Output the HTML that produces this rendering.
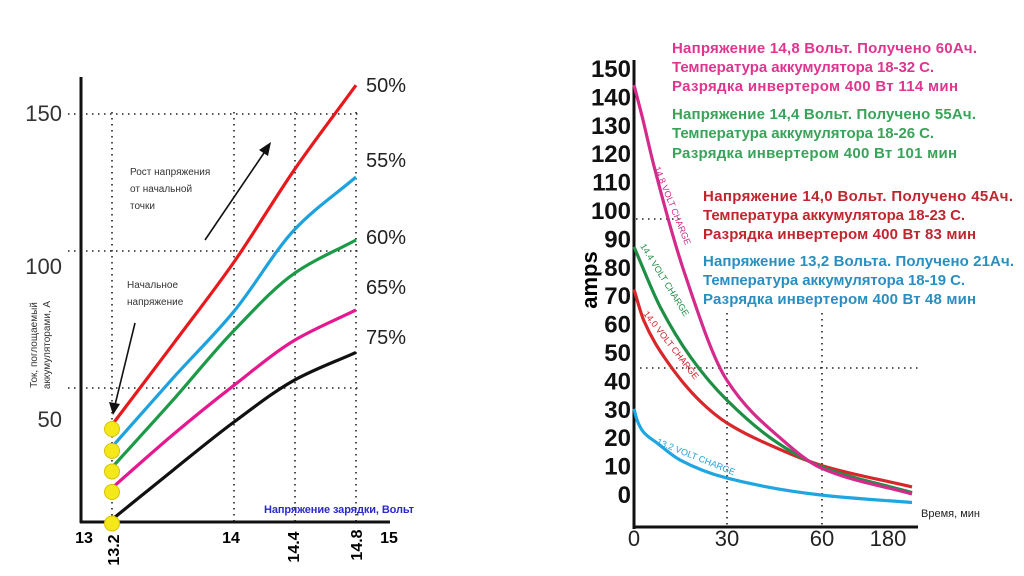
<!DOCTYPE html>
<html><head><meta charset="utf-8"><style>
html,body{margin:0;padding:0;background:#fff;}
svg{display:block;font-family:"Liberation Sans","DejaVu Sans",sans-serif;}
</style></head><body>
<svg id="chart" width="1024" height="576" viewBox="0 0 1024 576" xmlns="http://www.w3.org/2000/svg">
<rect width="1024" height="576" fill="#fff"/>
<g id="left">
  <g id="lgrid" stroke="#222" stroke-width="1.6" stroke-dasharray="1.5 4.5"></g>
  <line x1="81" y1="77" x2="81" y2="523" stroke="#111" stroke-width="3"/>
  <line x1="80" y1="522" x2="390" y2="522" stroke="#111" stroke-width="3"/>
  <text x="62" y="121" font-size="22" text-anchor="end" fill="#333">150</text>
  <text x="62" y="274" font-size="22" text-anchor="end" fill="#333">100</text>
  <text x="62" y="427" font-size="22" text-anchor="end" fill="#333">50</text>
  <text transform="translate(37,345) rotate(-90)" font-size="10" text-anchor="middle" fill="#333">Ток, поглощаемый</text>
  <text transform="translate(50,345) rotate(-90)" font-size="10" text-anchor="middle" fill="#333">аккумуляторами, А</text>
  <text x="84" y="543" font-size="16" font-weight="bold" text-anchor="middle">13</text>
  <text x="231" y="543" font-size="16" font-weight="bold" text-anchor="middle">14</text>
  <text x="389" y="543" font-size="16" font-weight="bold" text-anchor="middle">15</text>
  <text transform="translate(119,550) rotate(-90)" font-size="16" font-weight="bold" text-anchor="middle">13.2</text>
  <text transform="translate(299,547) rotate(-90)" font-size="16" font-weight="bold" text-anchor="middle">14.4</text>
  <text transform="translate(362,545) rotate(-90)" font-size="16" font-weight="bold" text-anchor="middle">14.8</text>
  <text x="264" y="513" font-size="11" font-weight="bold" fill="#2a2acc" textLength="150">Напряжение зарядки, Вольт</text>
  <g font-size="10" fill="#333">
    <text x="130" y="175">Рост напряжения</text>
    <text x="130" y="192">от начальной</text>
    <text x="130" y="209">точки</text>
  </g>
  <g font-size="10" fill="#333">
    <text x="127" y="288">Начальное</text>
    <text x="127" y="305">напряжение</text>
  </g>
  <line x1="205" y1="240" x2="266" y2="150" stroke="#111" stroke-width="1.6"/>
  <polygon points="271,142 259,150 268,156" fill="#111"/>
  <line x1="135" y1="323" x2="115" y2="405" stroke="#111" stroke-width="1.6"/>
  <polygon points="113,415 109,402 120,404" fill="#111"/>
  <g id="lseries"></g>
  <g id="ldots"></g>
  <g id="lpct" font-size="20" fill="#222"></g>
</g>
<g id="right">
  <g id="rgrid" stroke="#222" stroke-width="1.6" stroke-dasharray="1.5 4.5">
    <line x1="727" y1="313" x2="727" y2="527"/>
    <line x1="822" y1="313" x2="822" y2="527"/>
    <line x1="640" y1="368" x2="918" y2="368"/>
    <line x1="636" y1="219" x2="682" y2="219"/>
  </g>
  <line x1="634" y1="60" x2="634" y2="529" stroke="#111" stroke-width="3"/>
  <line x1="633" y1="527" x2="918" y2="527" stroke="#111" stroke-width="3"/>
  <g id="rytk" font-size="24" font-weight="bold" text-anchor="end" fill="#111"></g>
  <g id="rxtk" font-size="22" text-anchor="middle" fill="#222"></g>
  <text transform="translate(597,280) rotate(-90)" font-size="22" font-weight="bold" text-anchor="middle">amps</text>
  <text x="921" y="517" font-size="11" fill="#222">Время, мин</text>
  <g id="rseries"></g>
  <g font-size="9">
    <text transform="translate(654,168) rotate(68)" fill="#d0288a">14.8 VOLT CHARGE</text>
    <text transform="translate(640,246) rotate(58)" fill="#1f8f45">14.4 VOLT CHARGE</text>
    <text transform="translate(643,314) rotate(52)" fill="#cc2228">14.0 VOLT CHARGE</text>
    <text transform="translate(656,444) rotate(22)" fill="#1da0d8">13.2 VOLT CHARGE</text>
  </g>
  <g font-size="15" font-weight="bold" fill="#e0358f">
    <text x="672" y="53" textLength="305">Напряжение 14,8 Вольт. Получено 60Ач.</text>
    <text x="672" y="72" textLength="262">Температура аккумулятора 18-32 С.</text>
    <text x="672" y="91" textLength="286">Разрядка инвертером 400 Вт 114 мин</text>
  </g>
  <g font-size="15" font-weight="bold" fill="#3aa35a">
    <text x="672" y="119" textLength="304">Напряжение 14,4 Вольт. Получено 55Ач.</text>
    <text x="672" y="138" textLength="262">Температура аккумулятора 18-26 С.</text>
    <text x="672" y="158" textLength="285">Разрядка инвертером 400 Вт 101 мин</text>
  </g>
  <g font-size="15" font-weight="bold" fill="#c0262e">
    <text x="703" y="201" textLength="310">Напряжение 14,0 Вольт. Получено 45Ач.</text>
    <text x="703" y="220" textLength="262">Температура аккумулятора 18-23 С.</text>
    <text x="703" y="239" textLength="273">Разрядка инвертером 400 Вт 83 мин</text>
  </g>
  <g font-size="15" font-weight="bold" fill="#2a8fc0">
    <text x="703" y="266" textLength="311">Напряжение 13,2 Вольта. Получено 21Ач.</text>
    <text x="703" y="285" textLength="262">Температура аккумулятора 18-19 С.</text>
    <text x="703" y="304" textLength="273">Разрядка инвертером 400 Вт 48 мин</text>
  </g>
</g>
</svg>
<script>
// ---- Left chart data ----
const voltages = [13.2, 13.6, 14.0, 14.4, 14.8];
const series50 = [36.5, 66, 96, 130, 160.5];
const series55 = [28.5, 53.6, 78, 108, 127];
const series60 = [21, 45.6, 71, 92, 104];
const series65 = [13.5, 33, 51, 67.5, 78.5];
const series75 = [2, 20, 37.6, 53, 63];
const pctLabels = ["50%", "55%", "60%", "65%", "75%"];
const leftColors = ["#e8191c", "#1ea2de", "#1d9a48", "#e6188f", "#111111"];
const leftGridV = [13.2, 14.0, 14.4, 14.8];
const leftGridY = [150, 100, 50];

// ---- Right chart data ----
const yTicks = [0,10,20,30,40,50,60,70,80,90,100,110,120,130,140,150];
const xTickLabels = ["0","30","60","180"];
const xTickValues = [0,30,60,180];
const t148 = [0, 2.6, 6.6, 16.1, 30, 46.5, 60, 180];
const v148 = [144, 133, 114.8, 78.5, 40, 20, 9, 0];
const t144 = [0, 8.4, 18.4, 30, 46.5, 60, 180];
const v144 = [87, 66, 48, 33, 17.6, 9.5, 0.5];
const t140 = [0, 3.2, 10.5, 21.6, 30, 46.5, 60, 180];
const v140 = [72, 61, 47, 32.4, 25, 15.8, 10, 2.5];
const t132 = [0, 1, 2.9, 7.4, 14.8, 30, 60, 180];
const v132 = [30, 26, 22, 18, 12, 5.6, -0.4, -3];
const rightColors = ["#d42a8c", "#1f8f45", "#d9262a", "#1fa6e0"];

const NS = "http://www.w3.org/2000/svg";
function lx(v){ return 112 + (v - 13.2) * 152.5; }
function ly(a){ return 525 - a * 2.74; }
function rx(t){
  if (t <= 30) return 634 + t * (93/30);
  if (t <= 60) return 727 + (t - 30) * (95/30);
  return 822 + (t - 60) * (90/120);
}
function ry(a){ return 494 - a * 2.84; }
// monotone cubic (Fritsch-Carlson) in pixel space
function smooth(pts){
  const n = pts.length, d = [], m = [];
  for (let i = 0; i < n - 1; i++) d.push((pts[i+1][1]-pts[i][1])/(pts[i+1][0]-pts[i][0]));
  m[0] = d[0]; m[n-1] = d[n-2];
  for (let i = 1; i < n - 1; i++){
    if (d[i-1]*d[i] <= 0) m[i] = 0;
    else { const h0 = pts[i][0]-pts[i-1][0], h1 = pts[i+1][0]-pts[i][0];
      const w1 = 2*h1 + h0, w2 = h1 + 2*h0;
      m[i] = (w1 + w2) / (w1/d[i-1] + w2/d[i]); }
  }
  let s = "M" + pts[0][0].toFixed(1) + "," + pts[0][1].toFixed(1);
  for (let i = 0; i < n - 1; i++){
    const h = (pts[i+1][0]-pts[i][0]) / 3;
    s += " C" + (pts[i][0]+h).toFixed(1) + "," + (pts[i][1]+m[i]*h).toFixed(1) + " " +
         (pts[i+1][0]-h).toFixed(1) + "," + (pts[i+1][1]-m[i+1]*h).toFixed(1) + " " +
         pts[i+1][0].toFixed(1) + "," + pts[i+1][1].toFixed(1);
  }
  return s;
}
function mk(tag, attrs, parent){
  const e = document.createElementNS(NS, tag);
  for (const k in attrs) e.setAttribute(k, attrs[k]);
  parent.appendChild(e);
  return e;
}

// Left grid
const lgrid = document.getElementById("lgrid");
leftGridY.forEach(a => {
  const l = mk("line", {x1: 68, x2: 362, y1: ly(a), y2: ly(a)}, lgrid);
  
  
});
leftGridV.forEach(v => {
  const l = mk("line", {x1: lx(v), x2: lx(v), y1: 112, y2: 521}, lgrid);
  
  
});

// Left series
const leftSeries = [series50, series55, series60, series65, series75];
const lseries = document.getElementById("lseries");
const ldots = document.getElementById("ldots");
const lpct = document.getElementById("lpct");
const pctY = [85, 160, 237, 287, 337];
leftSeries.forEach((s, i) => {
  const pts = voltages.map((v, j) => [lx(v), ly(s[j])]);
  const p = mk("path", {d: smooth(pts), fill: "none", stroke: leftColors[i], "stroke-width": 3.2}, lseries);
  
  
  const c = mk("circle", {cx: lx(voltages[0]), cy: ly(s[0]) + 4, r: 7.5, fill: "#f5e81a", stroke: "#d4c400", "stroke-width": 1}, ldots);
  
  
  const t = mk("text", {x: 366, y: pctY[i] + 7}, lpct);
  t.textContent = pctLabels[i];
  
  
});

// Right ticks
const rytk = document.getElementById("rytk");
yTicks.forEach(v => {
  const t = mk("text", {x: 631, y: ry(v) + 9}, rytk);
  t.textContent = v;
  
  
});
const rxtk = document.getElementById("rxtk");
xTickValues.forEach((v, i) => {
  const t = mk("text", {x: rx(v) - (i === 3 ? 24 : 0), y: 546}, rxtk);
  t.textContent = xTickLabels[i];
  
  
});

// Right series
const rs = [[t148, v148], [t144, v144], [t140, v140], [t132, v132]];
const rnames = ["curve-14-8v", "curve-14-4v", "curve-14-0v", "curve-13-2v"];
const rseries = document.getElementById("rseries");
[2, 1, 0, 3].forEach(i => {
  const [ts, vs] = rs[i];
  const pts = ts.map((t, j) => [rx(t), ry(vs[j])]);
  const p = mk("path", {d: smooth(pts), fill: "none", stroke: rightColors[i], "stroke-width": 3.2}, rseries);
  
  
});
</script>
</body></html>
